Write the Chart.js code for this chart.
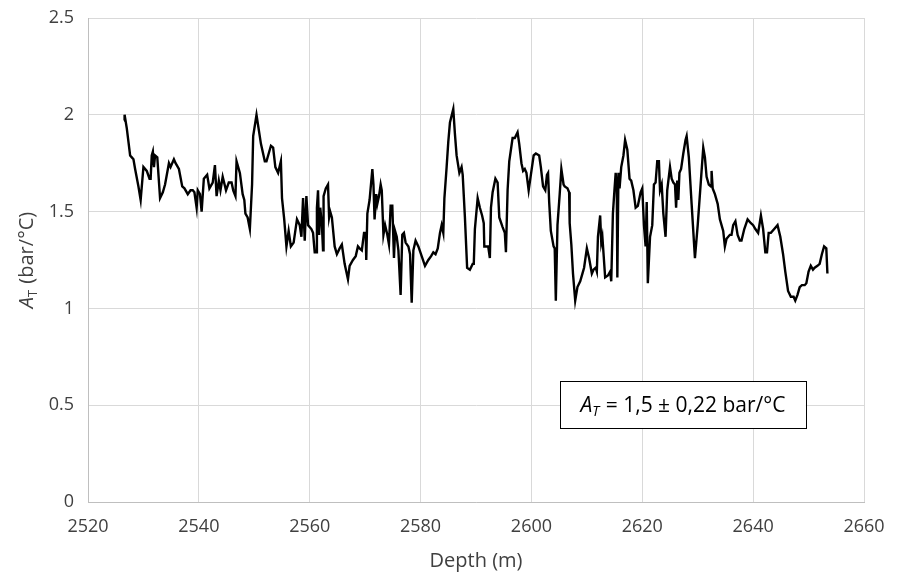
<!DOCTYPE html>
<html lang="en">
<head>
    <meta charset="UTF-8">
    <title>A_T vs depth</title>
    <script src="https://cdn.jsdelivr.net/npm/chart.js"></script>
    <style>
        html, body { margin: 0; padding: 0; background: #fff; }
        #wrap { width: 898px; height: 580px; }
    </style>
</head>
<body>
    <div id="wrap"><canvas id="chart" width="898" height="580"></canvas></div>

    <script>
        // depth (m) and A_T (bar/°C) read along the log
        const depth = [
            2526.5, 2526.6, 2527.0, 2527.3, 2527.6, 2527.9, 2528.2, 2528.5, 2529.1, 2529.5,
            2530.0, 2530.6, 2531.1, 2531.3, 2531.5, 2531.7, 2531.9, 2532.1, 2532.5, 2533.0,
            2533.5, 2533.9, 2534.6, 2534.9, 2535.5, 2535.8, 2536.4, 2537.0, 2537.4, 2538.0,
            2538.5, 2538.9, 2539.2, 2539.4, 2539.6, 2539.8, 2540.2, 2540.5, 2540.9, 2541.5,
            2541.9, 2542.5, 2542.9, 2543.2, 2543.6, 2543.9, 2544.3, 2544.9, 2545.4, 2545.9,
            2546.2, 2546.6, 2546.8, 2547.4, 2547.9, 2548.2, 2548.4, 2548.8, 2549.2, 2549.6,
            2549.8, 2550.4, 2551.2, 2551.9, 2552.2, 2553.0, 2553.4, 2553.8, 2554.3, 2554.8,
            2555.0, 2555.4, 2555.8, 2556.2, 2556.6, 2557.1, 2557.7, 2558.2, 2558.5, 2558.8,
            2559.1, 2559.4, 2559.7, 2560.3, 2560.6, 2560.9, 2561.2, 2561.3, 2561.5, 2561.7,
            2561.9, 2562.2, 2562.4, 2562.5, 2562.9, 2563.3, 2563.5, 2563.7, 2564.0, 2564.5,
            2564.9, 2565.4, 2565.8, 2566.3, 2566.9, 2567.2, 2567.8, 2568.3, 2568.7, 2569.0,
            2569.4, 2569.8, 2570.1, 2570.2, 2570.4, 2570.8, 2571.3, 2571.5, 2571.7, 2572.0,
            2572.2, 2572.5, 2572.8, 2573.0, 2573.3, 2573.6, 2574.0, 2574.3, 2574.6, 2574.9,
            2575.2, 2575.4, 2575.7, 2576.0, 2576.4, 2576.7, 2577.0, 2577.3, 2577.8, 2578.1,
            2578.4, 2578.7, 2579.1, 2579.6, 2580.2, 2580.8, 2581.4, 2581.9, 2582.3, 2582.7,
            2583.1, 2583.5, 2583.8, 2584.1, 2584.3, 2584.7, 2585.0, 2585.3, 2585.9, 2586.2,
            2586.5, 2587.0, 2587.4, 2587.6, 2588.0, 2588.4, 2588.9, 2589.4, 2589.6, 2589.8,
            2590.3, 2590.7, 2591.1, 2591.4, 2591.5, 2592.2, 2592.5, 2592.7, 2593.0, 2593.5,
            2593.9, 2594.2, 2594.8, 2595.2, 2595.4, 2595.7, 2596.0, 2596.6, 2597.0, 2597.5,
            2597.8, 2598.2, 2598.5, 2598.8, 2599.1, 2599.5, 2599.9, 2600.4, 2600.8, 2601.4,
            2601.7, 2602.1, 2602.5, 2602.8, 2603.0, 2603.2, 2603.5, 2604.0, 2604.2, 2604.4,
            2604.7, 2605.1, 2605.4, 2605.8, 2606.0, 2606.5, 2606.8, 2606.9, 2607.2, 2607.5,
            2607.9, 2608.3, 2608.8, 2609.2, 2609.5, 2610.0, 2610.4, 2610.9, 2611.2, 2611.6,
            2611.8, 2612.0, 2612.4, 2612.6, 2612.8, 2613.3, 2613.8, 2614.2, 2614.4, 2614.7,
            2615.0, 2615.2, 2615.4, 2615.5, 2615.7, 2615.9, 2616.2, 2616.6, 2616.9, 2617.3,
            2617.7, 2618.0, 2618.4, 2618.8, 2619.2, 2619.7, 2620.0, 2620.3, 2620.6, 2620.8,
            2621.0, 2621.4, 2621.8, 2622.1, 2622.4, 2622.7, 2623.0, 2623.2, 2623.5, 2623.8,
            2624.2, 2624.5, 2625.0, 2625.3, 2625.6, 2625.9, 2626.1, 2626.3, 2626.5, 2626.7,
            2627.0, 2627.4, 2627.8, 2628.0, 2628.4, 2628.9, 2629.5, 2630.0, 2630.6, 2631.0,
            2631.3, 2631.6, 2632.0, 2632.4, 2632.5, 2632.7, 2633.1, 2633.6, 2634.0, 2634.3,
            2634.6, 2634.9, 2635.2, 2635.8, 2636.1, 2636.4, 2636.8, 2637.2, 2637.6, 2637.9,
            2638.4, 2639.0, 2639.6, 2640.0, 2640.4, 2640.9, 2641.4, 2641.8, 2642.2, 2642.5,
            2642.8, 2643.2, 2643.8, 2644.4, 2644.9, 2645.4, 2645.8, 2646.3, 2646.8, 2647.3,
            2647.6, 2648.0, 2648.4, 2648.8, 2649.3, 2649.6, 2650.0, 2650.4, 2650.8, 2651.1,
            2651.6, 2652.0, 2652.4, 2652.8, 2653.2, 2653.4
        ];
        const aT = [
            1.97, 2.00, 1.93, 1.86, 1.79, 1.78, 1.77, 1.72, 1.63, 1.56,
            1.73, 1.71, 1.67, 1.67, 1.79, 1.81, 1.73, 1.79, 1.78, 1.57,
            1.60, 1.64, 1.75, 1.73, 1.77, 1.75, 1.72, 1.63, 1.62, 1.59,
            1.61, 1.61, 1.60, 1.56, 1.52, 1.61, 1.59, 1.50, 1.67, 1.69,
            1.62, 1.65, 1.74, 1.58, 1.66, 1.61, 1.68, 1.61, 1.65, 1.65,
            1.61, 1.58, 1.76, 1.70, 1.59, 1.56, 1.49, 1.47, 1.41, 1.64,
            1.89, 2.00, 1.85, 1.76, 1.76, 1.84, 1.83, 1.73, 1.70, 1.76,
            1.57, 1.46, 1.32, 1.40, 1.32, 1.34, 1.46, 1.43, 1.37, 1.57,
            1.35, 1.58, 1.43, 1.41, 1.39, 1.29, 1.29, 1.52, 1.61, 1.38,
            1.52, 1.43, 1.30, 1.58, 1.62, 1.64, 1.47, 1.50, 1.47, 1.32,
            1.28, 1.31, 1.33, 1.23, 1.15, 1.22, 1.25, 1.27, 1.32, 1.31,
            1.30, 1.39, 1.39, 1.25, 1.49, 1.56, 1.72, 1.64, 1.46, 1.59,
            1.54, 1.58, 1.64, 1.61, 1.38, 1.43, 1.38, 1.33, 1.53, 1.53,
            1.26, 1.40, 1.37, 1.30, 1.07, 1.38, 1.39, 1.34, 1.32, 1.28,
            1.03, 1.30, 1.35, 1.32, 1.27, 1.22, 1.25, 1.27, 1.29, 1.28,
            1.31, 1.39, 1.43, 1.39, 1.57, 1.73, 1.86, 1.96, 2.03, 1.90,
            1.79, 1.70, 1.73, 1.69, 1.47, 1.21, 1.20, 1.23, 1.23, 1.41,
            1.57, 1.52, 1.48, 1.44, 1.32, 1.32, 1.26, 1.52, 1.60, 1.67,
            1.65, 1.47, 1.42, 1.39, 1.29, 1.61, 1.76, 1.88, 1.88, 1.91,
            1.85, 1.75, 1.71, 1.72, 1.70, 1.61, 1.69, 1.79, 1.80, 1.79,
            1.73, 1.63, 1.61, 1.69, 1.70, 1.55, 1.40, 1.32, 1.31, 1.04,
            1.43, 1.59, 1.72, 1.64, 1.63, 1.62, 1.60, 1.44, 1.33, 1.18,
            1.04, 1.11, 1.14, 1.18, 1.21, 1.31, 1.26, 1.18, 1.20, 1.21,
            1.19, 1.37, 1.48, 1.34, 1.37, 1.16, 1.17, 1.19, 1.14, 1.49,
            1.62, 1.70, 1.62, 1.16, 1.70, 1.62, 1.73, 1.79, 1.87, 1.82,
            1.67, 1.66, 1.61, 1.52, 1.53, 1.60, 1.62, 1.43, 1.32, 1.55,
            1.13, 1.37, 1.43, 1.64, 1.65, 1.76, 1.76, 1.61, 1.64, 1.49,
            1.37, 1.61, 1.73, 1.67, 1.65, 1.64, 1.52, 1.66, 1.56, 1.70,
            1.72, 1.80, 1.87, 1.89, 1.78, 1.54, 1.26, 1.43, 1.67, 1.83,
            1.78, 1.68, 1.64, 1.63, 1.71, 1.62, 1.59, 1.54, 1.46, 1.43,
            1.40, 1.32, 1.36, 1.38, 1.38, 1.43, 1.45, 1.38, 1.35, 1.35,
            1.41, 1.46, 1.44, 1.43, 1.41, 1.39, 1.48, 1.41, 1.29, 1.29,
            1.39, 1.39, 1.41, 1.43, 1.37, 1.28, 1.19, 1.09, 1.06, 1.06,
            1.04, 1.07, 1.11, 1.12, 1.12, 1.13, 1.19, 1.22, 1.20, 1.21,
            1.22, 1.23, 1.28, 1.32, 1.31, 1.18
        ];

        const xTicks = [2520, 2540, 2560, 2580, 2600, 2620, 2640, 2660];
        const yTicks = [0, 0.5, 1, 1.5, 2, 2.5];
        const xTitle = 'Depth (m)';
        const yTitleUnit = ' (bar/\u00B0C)';
        const boxText = ' = 1,5 \u00B1 0,22 bar/\u00B0C';
        // box corners in data units: [depth left, depth right], [A_T top, A_T bottom]
        const boxDepth = [2605.2, 2649.5];
        const boxAT = [0.625, 0.382];

        const FONT = '"Open Sans", "Noto Sans", sans-serif';
        const TEXT = '#404040';

        // A + subscript T, followed by plain text; returns drawn width
        function drawAT(ctx, x, y, size, subItalic, rest, measureOnly) {
            const subSize = Math.round(size * 0.65);
            ctx.font = 'italic ' + size + 'px ' + FONT;
            const wA = ctx.measureText('A').width;
            ctx.font = (subItalic ? 'italic ' : '') + subSize + 'px ' + FONT;
            const wT = ctx.measureText('T').width;
            ctx.font = size + 'px ' + FONT;
            const wR = ctx.measureText(rest).width;
            if (!measureOnly) {
                ctx.font = 'italic ' + size + 'px ' + FONT;
                ctx.fillText('A', x, y);
                ctx.font = (subItalic ? 'italic ' : '') + subSize + 'px ' + FONT;
                ctx.fillText('T', x + wA, y + size * 0.22);
                ctx.font = size + 'px ' + FONT;
                ctx.fillText(rest, x + wA + wT + 1, y);
            }
            return wA + wT + 1 + wR;
        }

        const extras = {
            id: 'extras',
            afterDraw(chart) {
                const ctx = chart.ctx;
                const area = chart.chartArea;
                const xs = chart.scales.x, ys = chart.scales.y;
                ctx.save();
                ctx.fillStyle = TEXT;
                ctx.textBaseline = 'alphabetic';
                ctx.textAlign = 'left';

                // x title
                ctx.font = '20px ' + FONT;
                const wx = ctx.measureText(xTitle).width;
                ctx.fillText(xTitle, (area.left + area.right) / 2 - wx / 2, 567);

                // y title, rotated
                ctx.save();
                ctx.translate(33, (area.top + area.bottom) / 2);
                ctx.rotate(-Math.PI / 2);
                const wy = drawAT(ctx, 0, 0, 20, false, yTitleUnit, true);
                drawAT(ctx, -wy / 2, 0, 20, false, yTitleUnit, false);
                ctx.restore();

                // annotation box
                const bx0 = xs.getPixelForValue(boxDepth[0]);
                const bx1 = xs.getPixelForValue(boxDepth[1]);
                const by0 = ys.getPixelForValue(boxAT[0]);
                const by1 = ys.getPixelForValue(boxAT[1]);
                ctx.fillStyle = '#ffffff';
                ctx.fillRect(bx0, by0, bx1 - bx0, by1 - by0);
                ctx.strokeStyle = '#000000';
                ctx.lineWidth = 1;
                ctx.strokeRect(Math.round(bx0) + 0.5, Math.round(by0) + 0.5, Math.round(bx1 - bx0), Math.round(by1 - by0));
                ctx.fillStyle = '#000000';
                const wb = drawAT(ctx, 0, 0, 21, true, boxText, true);
                drawAT(ctx, (bx0 + bx1) / 2 - wb / 2, (by0 + by1) / 2 + 7, 21, true, boxText, false);

                ctx.restore();
            }
        };

        const ctx = document.getElementById('chart').getContext('2d');
        new Chart(ctx, {
            type: 'line',
            data: {
                datasets: [{
                    data: depth.map((d, i) => ({ x: d, y: aT[i] })),
                    borderColor: '#000000',
                    borderWidth: 2.4,
                    pointRadius: 0,
                    tension: 0,
                    fill: false
                }]
            },
            options: {
                responsive: false,
                animation: false,
                layout: { padding: { top: 18, right: 34, left: 0, bottom: 0 } },
                plugins: {
                    legend: { display: false },
                    tooltip: { enabled: false }
                },
                scales: {
                    x: {
                        type: 'linear',
                        min: xTicks[0],
                        max: xTicks[xTicks.length - 1],
                        afterBuildTicks: s => { s.ticks = xTicks.map(v => ({ value: v })); },
                        afterFit: s => { s.height = 78; s.paddingLeft = 0; s.paddingRight = 0; },
                        grid: { color: '#d9d9d9', lineWidth: 1, drawTicks: false },
                        border: { color: '#bfbfbf' },
                        ticks: {
                            padding: 14,
                            color: TEXT,
                            font: { family: FONT, size: 18 },
                            callback: v => String(v)
                        }
                    },
                    y: {
                        min: yTicks[0],
                        max: yTicks[yTicks.length - 1],
                        afterBuildTicks: s => { s.ticks = yTicks.map(v => ({ value: v })); },
                        afterFit: s => { s.width = 88; s.paddingTop = 0; s.paddingBottom = 0; },
                        grid: { color: '#d9d9d9', lineWidth: 1, drawTicks: false },
                        border: { color: '#bfbfbf' },
                        ticks: {
                            padding: 14,
                            color: TEXT,
                            font: { family: FONT, size: 18 },
                            callback: v => String(v)
                        }
                    }
                }
            },
            plugins: [extras]
        });
    </script>
</body>
</html>
